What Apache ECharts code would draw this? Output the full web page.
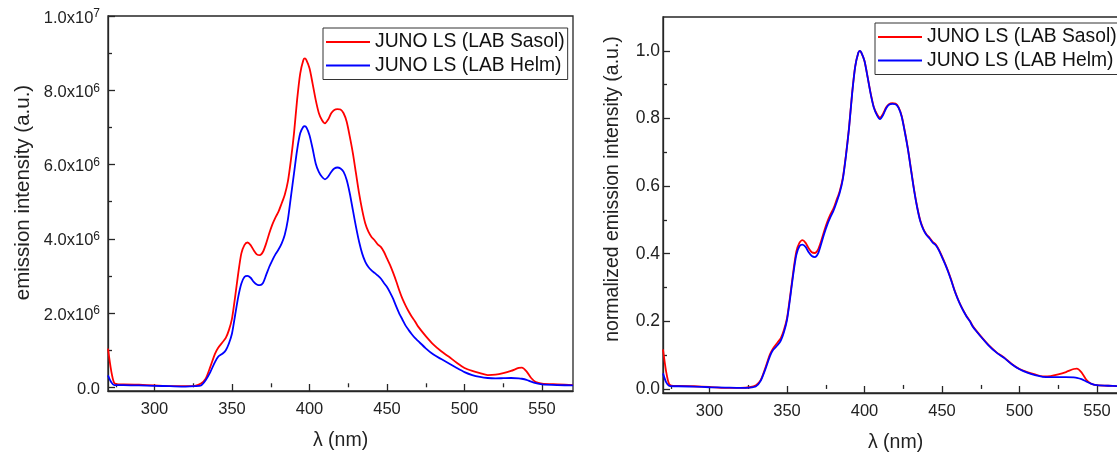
<!DOCTYPE html>
<html>
<head>
<meta charset="utf-8">
<script src="https://cdn.jsdelivr.net/npm/echarts@6/dist/echarts.min.js"></script>
<style>
html,body{margin:0;padding:0;background:#fff;}
#chart{width:1117px;height:454px;}
</style>
</head>
<body>
<div id="chart"></div>
<script>
// wavelength (nm)
var wavelength = [270,272,274,277,280,290,300,310,320,326,330,333,336,339,341,344,346,348,
350,352,354,356,358,360,362,364,366,368,370,372,374,376,378,380,382,384,386,388,390,392,394,396,
397,398,
400,402,404,406,408,410,412,414,416,418,420,422,424,426,428,430,432,434,436,438,440,442,444,446,448,450,452,454,456,458,460,462,464,466,468,470,
475,480,485,490,495,500,505,510,515,520,525,530,535,537,540,543,546,550,560,570];

// emission intensity, units of 10^6 (a.u.)
var sasolIntensity = [1.04,0.46,0.12,0.08,0.08,0.07,0.05,0.03,0.03,0.04,
0.1,0.23,0.55,0.9,1.06,1.22,1.33,1.54,
1.85,2.43,3.06,3.6,3.83,3.9,3.83,3.69,3.58,3.56,3.65,3.87,4.14,4.38,4.57,4.73,4.95,5.18,5.53,6.12,6.84,7.74,8.45,8.81,
8.86,8.81,
8.59,8.18,7.74,7.39,7.2,7.11,7.21,7.38,7.47,7.49,7.48,7.38,7.15,6.75,6.3,5.76,5.22,4.77,4.41,4.19,4.05,3.96,3.85,3.78,3.65,3.47,3.29,3.08,2.85,2.6,2.38,2.2,2.04,1.9,1.78,1.64,
1.38,1.15,0.97,0.82,0.66,0.52,0.44,0.38,0.33,0.34,0.38,0.44,0.52,
0.53,
0.43,0.25,0.14,0.1,0.08,0.06];

var helmIntensity = [0.32,0.14,0.06,0.06,0.06,0.05,0.04,0.03,0.02,0.03,
0.05,0.19,0.41,0.68,0.82,0.91,1.0,1.18,
1.45,1.94,2.43,2.79,2.97,3.0,2.95,2.84,2.77,2.75,2.81,3.02,3.24,3.42,3.58,3.71,3.87,4.1,4.5,5.13,5.76,6.39,6.84,7.02,
7.03,7.0,
6.79,6.43,6.03,5.8,5.67,5.6,5.67,5.8,5.89,5.92,5.89,5.8,5.58,5.22,4.77,4.32,3.92,3.6,3.38,3.24,3.15,3.08,3.01,2.93,2.81,2.7,2.55,2.38,2.17,1.98,1.82,1.66,1.54,1.43,1.33,1.25,
1.05,0.88,0.76,0.64,0.52,0.41,0.33,0.28,0.25,0.24,0.245,0.25,0.24,
0.23,
0.2,0.15,0.11,0.08,0.06,0.05];

// normalized emission intensity (a.u.)
var sasolNormalized = [0.117,0.052,0.014,0.009,0.009,0.008,0.006,0.003,0.003,0.005,
0.011,0.026,0.062,0.102,0.12,0.138,0.15,0.174,
0.209,0.274,0.345,0.406,0.432,0.44,0.432,0.416,0.404,0.402,0.412,0.437,0.467,0.494,0.516,0.534,0.559,0.585,0.624,0.691,0.772,0.874,0.954,0.994,
1.0,0.994,
0.97,0.923,0.874,0.834,0.813,0.802,0.814,0.833,0.843,0.845,0.844,0.833,0.807,0.762,0.711,0.65,0.589,0.538,0.498,0.473,0.457,0.447,0.435,0.427,0.412,0.392,0.371,0.348,0.322,0.293,0.269,0.248,0.23,0.214,0.201,0.185,
0.156,0.13,0.109,0.093,0.074,0.059,0.05,0.043,0.037,0.038,0.043,0.05,0.059,
0.06,
0.049,0.028,0.016,0.011,0.009,0.007];

var helmNormalized = [0.046,0.02,0.009,0.008,0.008,0.007,0.005,0.004,0.003,0.004,
0.008,0.024,0.058,0.097,0.115,0.13,0.143,0.168,
0.204,0.268,0.338,0.396,0.422,0.427,0.42,0.404,0.393,0.39,0.4,0.428,0.459,0.486,0.508,0.527,0.552,0.58,0.62,0.688,0.77,0.872,0.953,0.994,
1.0,0.995,
0.97,0.922,0.872,0.832,0.81,0.798,0.81,0.83,0.841,0.843,0.842,0.831,0.805,0.76,0.709,0.648,0.587,0.536,0.496,0.471,0.455,0.445,0.433,0.425,0.41,0.39,0.369,0.346,0.32,0.292,0.268,0.247,0.229,0.213,0.2,0.183,
0.155,0.129,0.108,0.092,0.073,0.058,0.048,0.041,0.036,0.035,0.035,0.035,0.034,
0.033,
0.029,0.022,0.016,0.011,0.009,0.007];

var seriesNames = ['JUNO LS (LAB Sasol)', 'JUNO LS (LAB Helm)'];
var xTicks = [300,350,400,450,500,550];
var xMinorTicks = [275,325,375,425,475,525];
var leftYTicks = [0,2,4,6,8,10];
var leftYLabels = ['0.0','2.0x10^6','4.0x10^6','6.0x10^6','8.0x10^6','1.0x10^7'];
var leftYMinorTicks = [1,3,5,7,9];
var rightYTicks = [0,0.2,0.4,0.6,0.8,1.0];
var rightYLabels = ['0.0','0.2','0.4','0.6','0.8','1.0'];
var rightYMinorTicks = [0.1,0.3,0.5,0.7,0.9];

var FONT = '"Liberation Sans", Arial, sans-serif';
var INK = '#222';
var AX = '#262626';

function pairs(xs, ys){ return xs.map(function(x,i){ return [x, ys[i]]; }); }
function supFmt(s){ return s.replace(/\^(\d+)/, '{sup|$1}'); }

function mainX(grid, name){
  return {
    type:'value', gridIndex:grid, min:270, max:570, position:'bottom',
    axisLine:{show:true, onZero:false, lineStyle:{color:AX, width:1.3}},
    axisTick:{show:true, inside:true, length:7, customValues:xTicks, lineStyle:{color:AX, width:1.3}},
    axisLabel:{customValues:xTicks, margin:10, fontSize:16.5, color:INK, fontFamily:FONT},
    splitLine:{show:false},
    name:name, nameLocation:'middle', nameGap:40,
    nameTextStyle:{fontSize:19.5, color:INK, fontFamily:FONT}
  };
}
function minorX(grid){
  return {
    type:'value', gridIndex:grid, min:270, max:570, position:'bottom',
    axisLine:{show:false},
    axisTick:{show:true, inside:true, length:4, customValues:xMinorTicks, lineStyle:{color:AX, width:1.3}},
    axisLabel:{show:false}, splitLine:{show:false}
  };
}
function minorY(grid, min, max, vals){
  return {
    type:'value', gridIndex:grid, min:min, max:max, position:'left',
    axisLine:{show:false},
    axisTick:{show:true, inside:true, length:4, customValues:vals, lineStyle:{color:AX, width:1.3}},
    axisLabel:{show:false}, splitLine:{show:false}
  };
}

var chart = echarts.init(document.getElementById('chart'), null, {renderer:'canvas'});

var legendBase = {
  orient:'vertical', data:seriesNames, selectedMode:false,
  icon:'rect', itemWidth:44, itemHeight:2, itemGap:4.5,
  padding:[4.5,3,4.5,3],
  borderColor:'#333', borderWidth:1, backgroundColor:'#fff',
  textStyle:{fontSize:19.3, color:'#111', fontFamily:FONT, lineHeight:19}
};

var option = {
  animation:false,
  backgroundColor:'#fff',
  grid:[
    {left:108, right:544, top:16, bottom:63, show:true, borderColor:AX, borderWidth:1.3, backgroundColor:'transparent', outerBoundsMode:'none', containLabel:false},
    {left:663, right:-11, top:17, bottom:61, show:true, borderColor:AX, borderWidth:1.3, backgroundColor:'transparent', outerBoundsMode:'none', containLabel:false}
  ],
  legend:[
    Object.assign({}, legendBase, {left:323, top:28}),
    Object.assign({}, legendBase, {left:875, top:23})
  ],
  xAxis:[ mainX(0,'λ (nm)'), minorX(0), mainX(1,'λ (nm)'), minorX(1) ],
  yAxis:[
    {
      type:'value', gridIndex:0, min:-0.1, max:10, position:'left',
      axisLine:{show:true, onZero:false, lineStyle:{color:AX, width:1.3}},
      axisTick:{show:true, inside:true, length:7, customValues:leftYTicks, lineStyle:{color:AX, width:1.3}},
      axisLabel:{
        customValues:leftYTicks, margin:8, fontSize:16.5, color:INK, fontFamily:FONT, lineHeight:20,
        padding:[4,0,0,0],
        formatter:function(v){ var i = leftYTicks.indexOf(v); return i < 0 ? '' : supFmt(leftYLabels[i]); },
        rich:{sup:{fontSize:12, lineHeight:12, verticalAlign:'top', color:INK, fontFamily:FONT}}
      },
      splitLine:{show:false},
      name:'emission intensity (a.u.)', nameLocation:'middle', nameGap:74,
      nameTextStyle:{fontSize:20.5, color:INK, fontFamily:FONT, padding:[0,0,0,22]}
    },
    minorY(0, -0.1, 10, leftYMinorTicks),
    {
      type:'value', gridIndex:1, min:-0.012, max:1.1, position:'left',
      axisLine:{show:true, onZero:false, lineStyle:{color:AX, width:1.3}},
      axisTick:{show:true, inside:true, length:7, customValues:rightYTicks, lineStyle:{color:AX, width:1.3}},
      axisLabel:{
        customValues:rightYTicks, margin:3, fontSize:17.5, color:INK, fontFamily:FONT,
        padding:[4,0,0,0],
        formatter:function(v){ var i = rightYTicks.indexOf(v); return i < 0 ? '' : rightYLabels[i]; }
      },
      splitLine:{show:false},
      name:'normalized emission intensity (a.u.)', nameLocation:'middle', nameGap:40,
      nameTextStyle:{fontSize:19.5, color:INK, fontFamily:FONT, padding:[0,0,0,32]}
    },
    minorY(1, -0.012, 1.1, rightYMinorTicks)
  ],
  series:[
    {name:seriesNames[0], type:'line', xAxisIndex:0, yAxisIndex:0, data:pairs(wavelength, sasolIntensity),
     symbol:'none', smooth:0.25, lineStyle:{color:'#ff0000', width:1.8}, itemStyle:{color:'#ff0000'}},
    {name:seriesNames[1], type:'line', xAxisIndex:0, yAxisIndex:0, data:pairs(wavelength, helmIntensity),
     symbol:'none', smooth:0.25, lineStyle:{color:'#0000ff', width:1.8}, itemStyle:{color:'#0000ff'}},
    {name:seriesNames[0], type:'line', xAxisIndex:2, yAxisIndex:2, data:pairs(wavelength, sasolNormalized),
     symbol:'none', smooth:0.25, lineStyle:{color:'#ff0000', width:1.8}, itemStyle:{color:'#ff0000'}},
    {name:seriesNames[1], type:'line', xAxisIndex:2, yAxisIndex:2, data:pairs(wavelength, helmNormalized),
     symbol:'none', smooth:0.25, lineStyle:{color:'#0000ff', width:1.8}, itemStyle:{color:'#0000ff'}}
  ]
};
chart.setOption(option);
</script>
</body>
</html>
